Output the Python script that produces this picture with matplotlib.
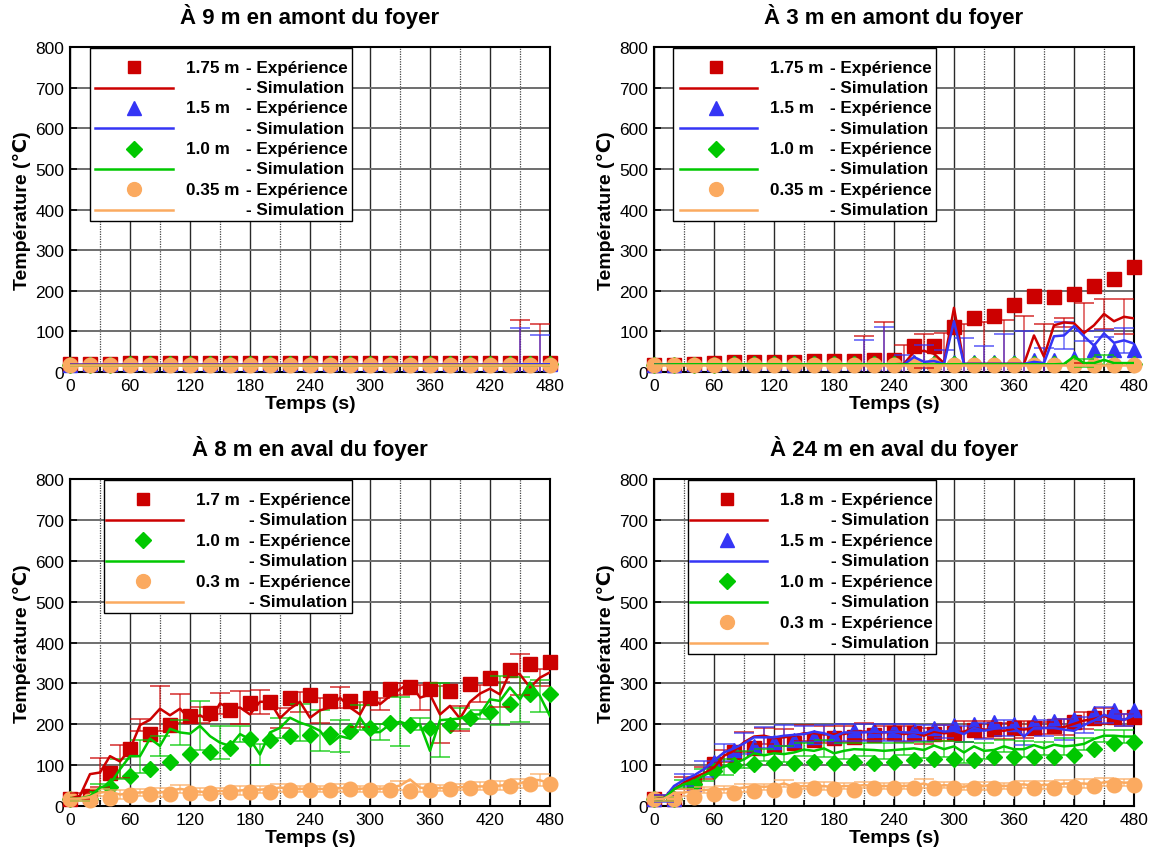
import numpy as np
import matplotlib
matplotlib.use("Agg")
import matplotlib.pyplot as plt
from matplotlib.patches import Rectangle
from matplotlib.lines import Line2D
from matplotlib.ticker import MultipleLocator

plt.rcParams['font.family'] = ['Liberation Sans', 'DejaVu Sans']

# ---------------- time bases ----------------
t_exp = np.arange(0, 481, 20)      # experimental samples
t_sim = np.arange(0, 481, 10)      # simulation samples
t_err = np.arange(10, 471, 20)     # simulation error bars

# ---------------- Panel 1 : 9 m en amont ----------------
TL_exp_red = [19, 20, 20, 21, 21, 21, 21, 21, 21, 21, 21, 21, 21, 21, 21, 21, 21, 21, 21, 21, 21, 21, 21, 21, 21]
TL_exp_blue = [18, 19, 19, 20, 20, 20, 20, 20, 20, 20, 20, 20, 20, 20, 20, 20, 20, 20, 20, 20, 20, 20, 20, 20, 20]
TL_exp_green = [17, 18, 18, 19, 19, 19, 19, 19, 19, 19, 19, 19, 19, 19, 19, 19, 19, 19, 19, 19, 19, 19, 19, 19, 19]
TL_exp_orange = [17, 17, 17, 18, 18, 18, 18, 18, 18, 18, 18, 18, 18, 18, 18, 18, 18, 18, 18, 18, 18, 18, 18, 18, 18]
TL_sim_red = [18, 18, 18, 18, 18, 18, 18, 18, 18, 18, 18, 18, 18, 18, 18, 18, 18, 18, 18, 18, 18, 18, 18, 18, 18,
              18, 18, 18, 18, 18, 18, 18, 18, 18, 18, 18, 18, 18, 18, 18, 18, 18, 18, 18, 18, 19, 19, 19, 19]
TL_sim_blue = [18, 18, 18, 18, 18, 18, 18, 18, 18, 18, 18, 18, 18, 18, 18, 18, 18, 18, 18, 18, 18, 18, 18, 18, 18,
               18, 18, 18, 18, 18, 18, 18, 18, 18, 18, 18, 18, 18, 18, 18, 18, 18, 18, 18, 18, 19, 19, 19, 19]
TL_sim_green = [18, 18, 18, 18, 18, 18, 18, 18, 18, 18, 18, 18, 18, 18, 18, 18, 18, 18, 18, 18, 18, 18, 18, 18, 18,
                18, 18, 18, 18, 18, 18, 18, 18, 18, 18, 18, 18, 18, 18, 18, 18, 18, 18, 18, 18, 18, 18, 18, 18]
TL_sim_orange = [18, 18, 18, 18, 18, 18, 18, 18, 18, 18, 18, 18, 18, 18, 18, 18, 18, 18, 18, 18, 18, 18, 18, 18, 18,
                 18, 18, 18, 18, 18, 18, 18, 18, 18, 18, 18, 18, 18, 18, 18, 18, 18, 18, 18, 18, 18, 18, 18, 18]
TL_err_red = [0, 0, 0, 0, 0, 0, 0, 0, 0, 0, 0, 0, 0, 0, 0, 0, 0, 0, 0, 0, 0, 0, 110, 100]
TL_err_blue = [0, 0, 0, 0, 0, 0, 0, 0, 0, 0, 0, 0, 0, 0, 0, 0, 0, 0, 0, 0, 0, 0, 90, 72]
TL_err_green = [0] * 24
TL_err_orange = [0] * 24

# ---------------- Panel 2 : 3 m en amont ----------------
TR_exp_red = [17, 18, 20, 22, 25, 25, 25, 25, 27, 27, 28, 30, 30, 65, 63, 111, 134, 138, 164, 187, 185, 193, 211, 229, 258]
TR_exp_blue = [17, 18, 19, 20, 21, 21, 21, 21, 22, 22, 22, 23, 23, 24, 24, 24, 25, 25, 25, 30, 30, 35, 54, 53, 54]
TR_exp_green = [17, 17, 18, 18, 19, 19, 19, 19, 19, 19, 19, 19, 19, 19, 19, 19, 19, 19, 19, 19, 19, 22, 19, 19, 19]
TR_exp_orange = [17, 17, 17, 18, 18, 18, 18, 18, 18, 18, 18, 18, 18, 18, 18, 18, 18, 18, 18, 18, 18, 18, 18, 18, 18]
TR_sim_red = [18, 18, 19, 19, 19, 19, 19, 19, 19, 19, 19, 19, 19, 19, 19, 19, 19, 19, 19, 19, 19, 19, 19, 19, 19,
              20, 50, 52, 45, 22, 158, 20, 20, 20, 20, 20, 20, 20, 90, 38, 115, 122, 120, 96, 115, 143, 125, 136, 132]
TR_sim_blue = [18, 18, 19, 19, 19, 19, 19, 19, 19, 19, 19, 19, 19, 19, 19, 19, 19, 19, 19, 19, 19, 19, 19, 19, 19,
               19, 37, 25, 27, 20, 125, 20, 20, 20, 20, 20, 20, 20, 25, 22, 88, 90, 113, 88, 65, 95, 72, 78, 70]
TR_sim_green = [18, 18, 19, 19, 19, 19, 19, 19, 19, 19, 19, 19, 19, 19, 19, 19, 19, 19, 19, 19, 19, 19, 19, 19, 19,
                19, 19, 19, 19, 19, 19, 19, 19, 19, 19, 19, 19, 19, 19, 19, 19, 20, 38, 22, 22, 30, 22, 22, 22]
TR_sim_orange = [18, 18, 18, 18, 18, 18, 18, 18, 18, 18, 18, 18, 18, 18, 18, 18, 18, 18, 18, 18, 18, 18, 18, 18, 18,
                 18, 18, 18, 18, 18, 18, 18, 18, 18, 18, 18, 18, 18, 18, 18, 18, 18, 18, 18, 18, 18, 18, 18, 18]
TR_err_red = [0, 0, 0, 0, 0, 0, 0, 0, 0, 0, 70, 103, 46, 41, 75, 99, 102, 107, 117, 79, 11, 73, 36, 43]
TR_err_blue = [0, 0, 0, 0, 0, 0, 0, 0, 0, 0, 60, 92, 23, 41, 34, 64, 44, 73, 81, 36, 34, 12, 8, 30]
TR_err_green = [0, 0, 0, 0, 0, 0, 0, 0, 0, 0, 0, 0, 0, 0, 0, 0, 0, 0, 0, 0, 0, 10, 12, 0]
TR_err_orange = [0] * 24

# ---------------- Panel 3 : 8 m en aval ----------------
BL_exp_red = [16, 25, 82, 139, 176, 198, 219, 227, 234, 251, 255, 265, 271, 257, 257, 265, 286, 292, 286, 282, 298, 314, 332, 347, 353]
BL_exp_green = [18, 18, 47, 73, 91, 108, 128, 133, 143, 163, 161, 171, 174, 176, 184, 192, 202, 198, 192, 198, 215, 230, 249, 273, 273]
BL_exp_orange = [16, 15, 20, 26, 29, 30, 31, 33, 34, 34, 35, 38, 38, 39, 42, 38, 40, 37, 39, 41, 45, 47, 49, 53, 53]
BL_sim_red = [18, 25, 78, 82, 122, 109, 139, 198, 211, 238, 222, 238, 212, 222, 208, 251, 238, 241, 224, 255, 255,
              215, 238, 255, 216, 234, 241, 265, 241, 224, 269, 249, 269, 286, 302, 265, 273, 224, 245, 214, 255,
              275, 287, 273, 327, 322, 290, 314, 327]
BL_sim_green = [18, 18, 24, 45, 53, 90, 122, 122, 165, 147, 189, 180, 177, 196, 171, 155, 147, 176, 163, 126, 180,
                191, 216, 204, 196, 184, 151, 171, 165, 216, 180, 181, 200, 206, 198, 200, 135, 210, 212, 214, 224,
                224, 261, 257, 290, 261, 302, 269, 220]
BL_sim_orange = [18, 18, 22, 33, 35, 28, 32, 33, 35, 33, 37, 42, 38, 35, 33, 37, 36, 38, 40, 40, 42, 45, 43, 42, 43,
                 42, 42, 44, 43, 42, 45, 42, 45, 50, 65, 45, 42, 44, 45, 46, 48, 48, 48, 50, 52, 55, 65, 63, 55]
BL_err_red = [8, 36, 40, 14, 55, 35, 20, 25, 40, 30, 25, 25, 30, 25, 30, 15, 15, 30, 70, 30, 20, 30, 50, 20]
BL_err_green = [5, 10, 25, 40, 25, 30, 60, 40, 20, 25, 25, 45, 50, 40, 30, 20, 60, 15, 90, 25, 10, 60, 55, 40]
BL_err_orange = [5, 8, 10, 8, 12, 10, 8, 8, 10, 8, 10, 8, 8, 10, 8, 8, 12, 10, 8, 8, 10, 10, 12, 15]

# ---------------- Panel 4 : 24 m en aval ----------------
BR_exp_red = [16, 18, 53, 102, 131, 142, 149, 153, 162, 166, 170, 174, 178, 178, 176, 178, 185, 188, 191, 191, 195, 205, 215, 217, 217]
BR_exp_blue = [16, 18, 55, 108, 138, 146, 156, 162, 168, 172, 186, 187, 187, 187, 190, 197, 201, 205, 201, 205, 207, 213, 228, 236, 234]
BR_exp_green = [16, 18, 53, 86, 100, 103, 106, 106, 107, 106, 107, 106, 107, 113, 115, 115, 113, 119, 119, 120, 120, 125, 139, 154, 157]
BR_exp_orange = [16, 18, 23, 29, 33, 37, 39, 40, 43, 41, 40, 43, 44, 44, 44, 43, 43, 44, 44, 43, 45, 47, 49, 52, 52]
BR_sim_red = [16, 20, 41, 57, 70, 80, 94, 123, 135, 156, 170, 172, 166, 168, 172, 178, 178, 175, 176, 176, 182, 182,
              180, 180, 182, 176, 180, 172, 182, 178, 180, 182, 191, 187, 187, 184, 189, 187, 191, 191, 191, 193,
              201, 209, 213, 220, 213, 211, 217]
BR_sim_blue = [16, 18, 49, 64, 75, 90, 111, 131, 141, 153, 168, 168, 168, 172, 174, 176, 182, 178, 170, 180, 180, 180,
               182, 180, 182, 180, 180, 178, 187, 182, 184, 176, 191, 184, 189, 191, 193, 170, 191, 191, 191, 187,
               184, 198, 209, 223, 215, 211, 221]
BR_sim_green = [16, 18, 41, 53, 61, 75, 86, 96, 104, 114, 129, 124, 129, 127, 131, 138, 135, 141, 129, 135, 139, 138,
                137, 135, 137, 139, 141, 137, 148, 139, 146, 131, 146, 135, 137, 146, 139, 139, 149, 141, 150, 146,
                148, 152, 164, 172, 172, 170, 170]
BR_sim_orange = [16, 18, 31, 33, 37, 39, 41, 41, 43, 45, 49, 47, 49, 55, 47, 49, 47, 49, 45, 49, 49, 51, 49, 49, 49,
                 49, 51, 55, 47, 51, 49, 47, 53, 49, 53, 49, 51, 53, 49, 52, 52, 55, 55, 55, 53, 58, 61, 57, 58]
BR_err_red = [8, 15, 15, 15, 25, 20, 20, 20, 20, 20, 20, 15, 20, 20, 20, 25, 20, 20, 20, 15, 20, 20, 20, 15]
BR_err_blue = [8, 15, 20, 20, 25, 25, 25, 20, 20, 20, 20, 20, 20, 20, 15, 20, 20, 20, 20, 20, 25, 20, 20, 15]
BR_err_green = [5, 10, 15, 20, 20, 15, 20, 15, 20, 20, 15, 20, 15, 20, 20, 25, 20, 15, 20, 15, 20, 15, 15, 15]
BR_err_orange = [5, 8, 8, 8, 10, 8, 8, 8, 10, 8, 8, 8, 8, 10, 8, 8, 10, 8, 8, 10, 8, 10, 10, 8]

# ---------------- titles / labels ----------------
titles = ["À 9 m en amont du foyer", "À 3 m en amont du foyer",
          "À 8 m en aval du foyer", "À 24 m en aval du foyer"]
x_label = "Temps (s)"
y_label = "Température (℃)"
x_ticks = [0, 60, 120, 180, 240, 300, 360, 420, 480]
y_ticks = [0, 100, 200, 300, 400, 500, 600, 700, 800]

# ---------------- styles ----------------
COL = {'red': '#CC0000', 'blue': '#3535F5', 'green': '#00C800', 'orange': '#FBAA60'}
MRK = {'red': 's', 'blue': '^', 'green': 'D', 'orange': 'o'}
MSZ = {'red': 9.5, 'blue': 10, 'green': 8.5, 'orange': 10.5}

panels = [
    dict(title=titles[0], pos=[0.0607, 0.5627, 0.4163, 0.3810],
         series=[('red', '1.75 m', TL_exp_red, TL_sim_red, TL_err_red),
                 ('blue', '1.5 m', TL_exp_blue, TL_sim_blue, TL_err_blue),
                 ('green', '1.0 m', TL_exp_green, TL_sim_green, TL_err_green),
                 ('orange', '0.35 m', TL_exp_orange, TL_sim_orange, TL_err_orange)],
         leg=dict(box=(0.042, 0.5875), mk=0.133, line=(0.052, 0.215), lab=0.242, hy=0.367)),
    dict(title=titles[1], pos=[0.5672, 0.5627, 0.4163, 0.3810],
         series=[('red', '1.75 m', TR_exp_red, TR_sim_red, TR_err_red),
                 ('blue', '1.5 m', TR_exp_blue, TR_sim_blue, TR_err_blue),
                 ('green', '1.0 m', TR_exp_green, TR_sim_green, TR_err_green),
                 ('orange', '0.35 m', TR_exp_orange, TR_sim_orange, TR_err_orange)],
         leg=dict(box=(0.040, 0.5875), mk=0.129, line=(0.054, 0.215), lab=0.242, hy=0.367)),
    dict(title=titles[2], pos=[0.0607, 0.0539, 0.4163, 0.3834],
         series=[('red', '1.7 m', BL_exp_red, BL_sim_red, BL_err_red),
                 ('green', '1.0 m', BL_exp_green, BL_sim_green, BL_err_green),
                 ('orange', '0.3 m', BL_exp_orange, BL_sim_orange, BL_err_orange)],
         leg=dict(box=(0.070, 0.5875), mk=0.152, line=(0.075, 0.235), lab=0.262, hy=0.372)),
    dict(title=titles[3], pos=[0.5672, 0.0539, 0.4163, 0.3834],
         series=[('red', '1.8 m', BR_exp_red, BR_sim_red, BR_err_red),
                 ('blue', '1.5 m', BR_exp_blue, BR_sim_blue, BR_err_blue),
                 ('green', '1.0 m', BR_exp_green, BR_sim_green, BR_err_green),
                 ('orange', '0.3 m', BR_exp_orange, BR_sim_orange, BR_err_orange)],
         leg=dict(box=(0.070, 0.5875), mk=0.152, line=(0.075, 0.235), lab=0.262, hy=0.368)),
]

fig = plt.figure(figsize=(11.53, 8.53), dpi=100)

LEG_FS = 12.3
for p in panels:
    ax = fig.add_axes(p['pos'])
    ax.set_xlim(0, 480)
    ax.set_ylim(0, 800)
    ax.set_xticks(x_ticks)
    ax.set_yticks(y_ticks)
    ax.xaxis.set_minor_locator(MultipleLocator(30))
    ax.grid(which='major', axis='x', color='#2a2a2a', lw=1.0)
    ax.grid(which='minor', axis='x', color='#444444', lw=0.9, ls=(0, (1, 1)))
    ax.grid(which='major', axis='y', color='#6e6e6e', lw=1.4)
    ax.set_axisbelow(True)
    ax.tick_params(which='both', direction='in', labelsize=12.5, width=1.2, pad=4)
    ax.tick_params(which='major', length=5)
    ax.tick_params(which='minor', length=4)
    for sp in ax.spines.values():
        sp.set_linewidth(1.5)
        sp.set_color('black')
    ax.set_title(p['title'], fontsize=16, fontweight='bold', pad=17)
    ax.set_xlabel(x_label, fontsize=14, fontweight='bold', labelpad=2)
    ax.set_ylabel(y_label, fontsize=14, fontweight='bold', labelpad=3)

    # experimental markers
    for key, lab, exp, sim, err in p['series']:
        ax.plot(t_exp, exp, ls='none', marker=MRK[key], ms=MSZ[key], color=COL[key],
                mec=COL[key], zorder=3, clip_on=False)
    # simulation lines with error bars
    for key, lab, exp, sim, err in p['series']:
        sim = np.asarray(sim, dtype=float)
        err = np.asarray(err, dtype=float)
        ysim_err = sim[1::2]
        m = err > 0
        if m.any():
            ax.errorbar(t_err[m], ysim_err[m], yerr=err[m], fmt='none', ecolor=COL[key],
                        elinewidth=1.1, capsize=7, capthick=1.3, alpha=0.7, zorder=4)
        ax.plot(t_sim, sim, color=COL[key], lw=1.8, zorder=5)

    # manual legend
    lg = p['leg']
    n = len(p['series'])
    bottom = 1 - 0.0625 * (2 * n) - 0.035
    ax.add_patch(Rectangle((lg['box'][0], bottom), lg['box'][1] - lg['box'][0], 0.998 - bottom,
                           transform=ax.transAxes, facecolor='white', edgecolor='black',
                           lw=1.0, zorder=10))
    for i, (key, lab, exp, sim, err) in enumerate(p['series']):
        y1 = 0.9375 - 0.125 * i
        y2 = y1 - 0.0625
        ax.add_line(Line2D([lg['mk']], [y1], transform=ax.transAxes, ls='none', marker=MRK[key],
                           ms=MSZ[key] * 0.95, color=COL[key], mec=COL[key], zorder=11))
        ax.add_line(Line2D([lg['line'][0], lg['line'][1]], [y2, y2], transform=ax.transAxes,
                           color=COL[key], lw=1.8, zorder=11))
        ax.text(lg['lab'], y1, lab, transform=ax.transAxes, ha='left', va='center',
                fontsize=LEG_FS, fontweight='bold', zorder=12)
        ax.text(lg['hy'], y1, "- Expérience", transform=ax.transAxes, ha='left', va='center',
                fontsize=LEG_FS, fontweight='bold', zorder=12)
        ax.text(lg['hy'], y2, "- Simulation", transform=ax.transAxes, ha='left', va='center',
                fontsize=LEG_FS, fontweight='bold', zorder=12)

fig.savefig("out.png", dpi=100)
